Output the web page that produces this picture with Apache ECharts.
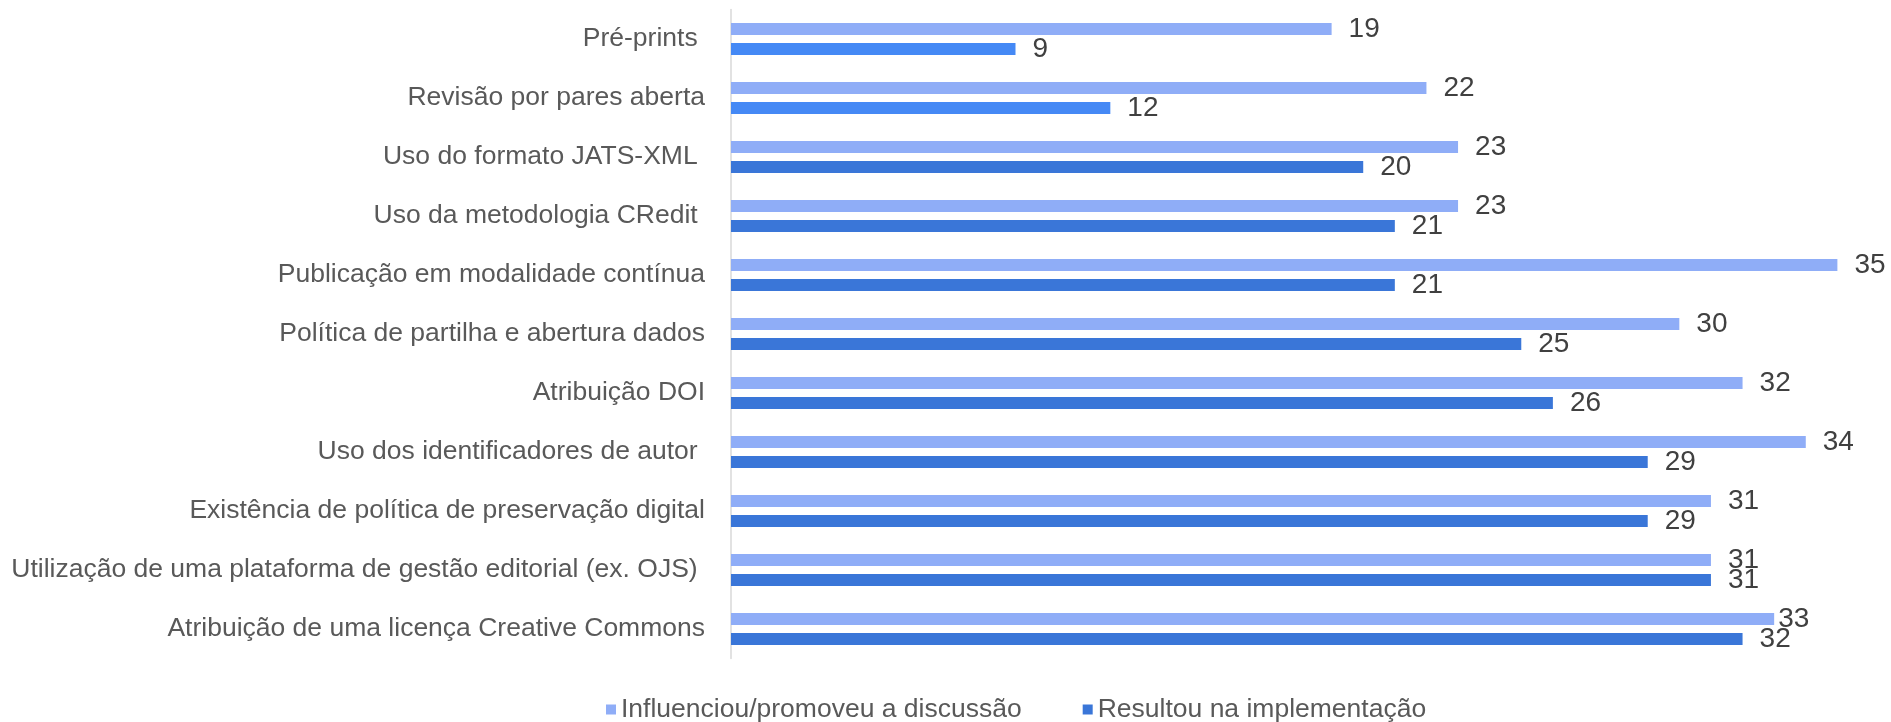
<!DOCTYPE html>
<html>
<head>
<meta charset="utf-8">
<script src="https://cdn.jsdelivr.net/npm/echarts@6/dist/echarts.min.js"></script>
<style>
html,body{margin:0;padding:0;background:#fff;}
#chart{width:1891px;height:722px;}
</style>
</head>
<body>
<div id="chart"></div>
<script>
const categories = [
  "Pré-prints ",
  "Revisão por pares aberta",
  "Uso do formato JATS-XML ",
  "Uso da metodologia CRedit ",
  "Publicação em modalidade contínua",
  "Política de partilha e abertura dados",
  "Atribuição DOI",
  "Uso dos identificadores de autor ",
  "Existência de política de preservação digital",
  "Utilização de uma plataforma de gestão editorial (ex. OJS) ",
  "Atribuição de uma licença Creative Commons"
];
const seriesNames = ["Influenciou/promoveu a discussão", "Resultou na implementação"];
const discussao = [19, 22, 23, 23, 35, 30, 32, 34, 31, 31, 33];
const implementacao = [9, 12, 20, 21, 21, 25, 26, 29, 29, 31, 32];

const FONT = '"Liberation Sans", Arial, sans-serif';
const lightColor = '#8FADF7';
const darkColor = '#3A76D8';
const brightColor = '#4589F5';
const brightIdx = [0, 1];
const tightLabelIdx = [10];

const chart = echarts.init(document.getElementById('chart'), null, {renderer: 'canvas'});

const labelBase = {
  show: true,
  position: 'right',
  distance: 17,
  color: '#404040',
  fontSize: 28,
  fontFamily: FONT
};

chart.setOption({
  animation: false,
  backgroundColor: '#ffffff',
  grid: {left: 731, right: 22, top: 9.5, height: 649, containLabel: false},
  legend: {
    left: 601,
    top: 691,
    itemWidth: 10,
    itemHeight: 10,
    itemGap: 61,
    icon: 'rect',
    textStyle: {fontSize: 26.5, color: '#595959', fontFamily: FONT},
    data: seriesNames
  },
  xAxis: {
    type: 'value',
    min: 0,
    max: 36,
    show: false,
    splitLine: {show: false}
  },
  yAxis: {
    type: 'category',
    data: categories,
    inverse: true,
    axisLine: {show: true, lineStyle: {color: '#D9D9D9', width: 1.5}},
    axisTick: {show: false},
    axisLabel: {margin: 26, color: '#595959', fontSize: 26.5, fontFamily: FONT}
  },
  series: [
    {
      name: seriesNames[0],
      type: 'bar',
      barWidth: 12,
      barGap: '66%',
      itemStyle: {color: lightColor},
      label: labelBase,
      data: discussao.map((v, i) => tightLabelIdx.includes(i) ? {value: v, label: {distance: 4}} : v)
    },
    {
      name: seriesNames[1],
      type: 'bar',
      barWidth: 12,
      barGap: '66%',
      itemStyle: {color: darkColor},
      label: labelBase,
      data: implementacao.map((v, i) => brightIdx.includes(i) ? {value: v, itemStyle: {color: brightColor}} : v)
    }
  ]
});
</script>
</body>
</html>
